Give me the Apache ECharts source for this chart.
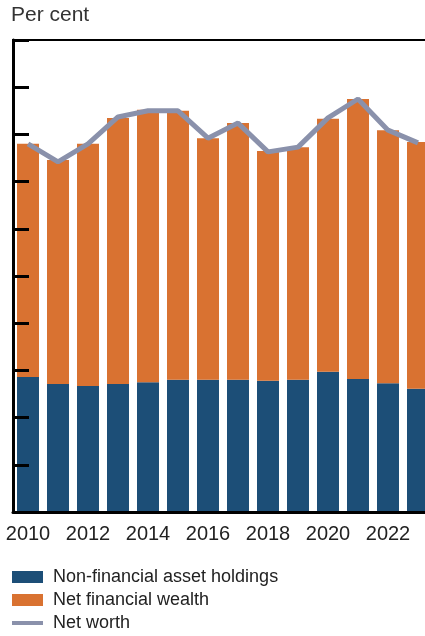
<!DOCTYPE html>
<html>
<head>
<meta charset="utf-8">
<script src="https://cdn.jsdelivr.net/npm/echarts@6/dist/echarts.min.js"></script>
<style>
  html, body { margin: 0; padding: 0; background: #fff; overflow: hidden; }
  #chart { width: 440px; height: 636px; }
</style>
</head>
<body>
<div id="chart"></div>
<script>
var years = ['2010', '2011', '2012', '2013', '2014', '2015', '2016', '2017', '2018', '2019', '2020', '2021', '2022', '2023'];
// values (axis has no labels, scale 0-1000)
var nonFinancial = [286, 271, 267, 271, 275, 280, 280, 280, 278, 280, 297, 282, 273, 261];
var netFinancial = [494, 475, 513, 564, 577, 570, 512, 544, 487, 493, 536, 593, 536, 523];
var netWorth = [780, 742, 780, 837, 850, 850, 792, 824, 763, 773, 835, 875, 809, 782];

var fontFamily = '"Liberation Sans", Arial, sans-serif';
// chart is a bit wider than the window: the last bar is cut off at the edge
var myChart = echarts.init(document.getElementById('chart'));
var option = {
  animation: false,
  title: {
    text: 'Per cent',
    left: 11,
    top: 5,
    padding: 0,
    textStyle: { fontSize: 21, fontWeight: 'normal', color: '#333', fontFamily: fontFamily }
  },
  grid: {
    left: 13,
    top: 40,
    width: 420,
    height: 472,
    show: true,
    borderColor: '#000',
    borderWidth: 2,
    backgroundColor: 'transparent'
  },
  legend: {
    orient: 'vertical',
    left: 12,
    top: 568,
    padding: 0,
    itemWidth: 31,
    itemHeight: 12,
    itemGap: 5,
    textStyle: { fontSize: 18, color: '#222', fontFamily: fontFamily, padding: [0, 0, 0, 5] },
    data: [
      { name: 'Non-financial asset holdings', icon: 'rect' },
      { name: 'Net financial wealth', icon: 'rect' },
      { name: 'Net worth', icon: 'path://M0,0h31v4h-31z' }
    ]
  },
  xAxis: {
    type: 'category',
    data: years,
    z: 10,
    axisLine: { lineStyle: { color: '#000', width: 3 } },
    axisTick: { inside: true, length: 13, lineStyle: { color: '#000', width: 2 } },
    axisLabel: {
      interval: 1,
      margin: 12,
      fontSize: 20,
      color: '#222',
      fontFamily: fontFamily
    }
  },
  yAxis: {
    type: 'value',
    min: 0,
    max: 1000,
    interval: 100,
    z: 10,
    splitLine: { show: false },
    axisLabel: { show: false },
    axisLine: { show: true, lineStyle: { color: '#000', width: 3 } },
    axisTick: { show: true, inside: true, length: 16, lineStyle: { color: '#000', width: 3 } }
  },
  series: [
    {
      name: 'Non-financial asset holdings',
      type: 'bar',
      stack: 'wealth',
      barWidth: 22,
      itemStyle: { color: '#1c4e77' },
      data: nonFinancial
    },
    {
      name: 'Net financial wealth',
      type: 'bar',
      stack: 'wealth',
      barWidth: 22,
      itemStyle: { color: '#d97231' },
      data: netFinancial
    },
    {
      name: 'Net worth',
      type: 'line',
      symbol: 'none',
      z: 5,
      itemStyle: { color: '#8a91ab' },
      lineStyle: { color: '#8a91ab', width: 5 },
      data: netWorth
    }
  ]
};
myChart.setOption(option);
</script>
</body>
</html>
